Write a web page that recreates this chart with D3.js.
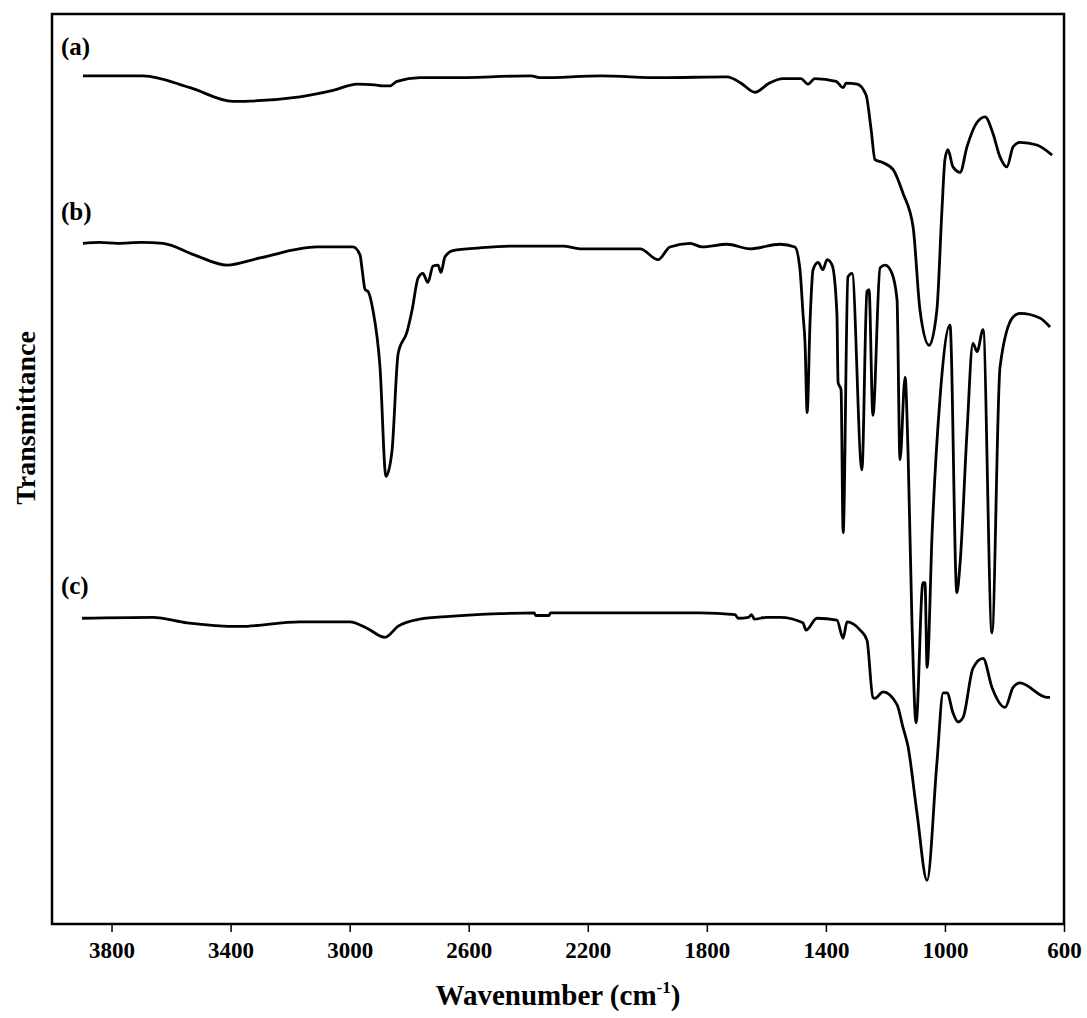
<!DOCTYPE html>
<html>
  <head>
    <meta charset="utf-8" />
    <title>FTIR spectra</title>
    <script src="https://d3js.org/d3.v7.min.js"></script>
    <style>
      body {
        margin: 0;
        background: #fff;
        font-family: 'Liberation Serif', 'Times New Roman', serif;
      }
      .tick text {
        font-weight: bold;
      }
    </style>
  </head>
  <body>
    <div id="chart"></div>
    <script>
      // x axis
      const xTicks = [3800, 3400, 3000, 2600, 2200, 1800, 1400, 1000, 600];
      const xDomain = [4000, 600];
      const seriesLabels = ['(a)', '(b)', '(c)'];

      // spectra: [wavenumber, transmittance (a.u., stacked)]
      const specA = [
        [3896, 93.2], [3694, 93.2], [3536, 91.9], [3392, 90.4], [3167, 90.9],
        [3056, 91.6], [2975, 92.3], [2915, 92.2], [2888, 92.1], [2864, 92.1],
        [2841, 92.6], [2764, 93.0], [2663, 93.0], [2391, 93.2], [2357, 93.0],
        [2156, 93.2], [1954, 93.0], [1732, 93.1], [1685, 92.4], [1638, 91.4],
        [1591, 92.4], [1544, 92.9], [1484, 92.9], [1460, 92.3], [1437, 92.9],
        [1366, 92.6], [1342, 91.9], [1332, 92.4], [1295, 92.3], [1265, 91.1],
        [1248, 87.3], [1235, 84.0], [1211, 83.7], [1174, 82.9], [1141, 80.3],
        [1107, 76.6], [1084, 67.5], [1053, 63.6], [1027, 67.5], [1010, 78.5],
        [1000, 84.0], [990, 85.1], [973, 83.2], [949, 82.6], [926, 85.4],
        [892, 88.1], [865, 88.7], [839, 86.9], [815, 84.3], [792, 83.2],
        [771, 85.4], [748, 85.9], [691, 85.6], [640, 84.5],
      ];
      const specB = [
        [3896, 74.8], [3840, 74.9], [3780, 74.8], [3700, 74.9], [3627, 74.8],
        [3520, 73.5], [3412, 72.4], [3301, 73.2], [3110, 74.4], [2989, 74.4],
        [2965, 73.5], [2958, 71.9], [2948, 69.7], [2938, 69.5], [2922, 67.5],
        [2898, 61.2], [2878, 49.2], [2858, 51.9], [2837, 62.7], [2807, 65.1],
        [2790, 67.5], [2770, 71.0], [2754, 71.5], [2737, 70.5], [2720, 72.3],
        [2703, 72.4], [2693, 71.6], [2680, 73.3], [2653, 74.0], [2562, 74.3],
        [2451, 74.5], [2283, 74.5], [2226, 74.2], [2024, 74.2], [1964, 73.0],
        [1924, 74.4], [1856, 74.8], [1816, 74.4], [1732, 74.7], [1655, 74.2],
        [1554, 74.7], [1504, 74.4], [1487, 71.9], [1477, 67.1], [1470, 63.8],
        [1463, 56.2], [1453, 66.4], [1443, 71.9], [1426, 72.7], [1410, 71.9],
        [1396, 73.0], [1379, 72.4], [1363, 67.1], [1359, 59.5], [1349, 58.7],
        [1342, 43.0], [1326, 71.1], [1312, 71.5], [1279, 49.9], [1262, 69.5],
        [1255, 69.7], [1242, 55.9], [1218, 72.1], [1201, 72.4], [1178, 71.5],
        [1161, 68.6], [1151, 51.0], [1134, 60.1], [1124, 51.9], [1111, 33.4],
        [1097, 22.1], [1074, 37.5], [1067, 37.5], [1060, 28.2], [1043, 43.0],
        [1017, 57.6], [983, 65.8], [960, 36.4], [949, 39.7], [926, 54.0],
        [906, 63.8], [892, 62.9], [872, 65.3], [842, 32.0], [815, 61.2],
        [771, 66.7], [748, 67.1], [681, 66.6], [647, 65.6],
      ];
      const specC = [
        [3899, 33.6], [3661, 33.7], [3546, 33.1], [3368, 32.7], [3167, 33.2],
        [2999, 33.2], [2942, 32.5], [2881, 31.5], [2838, 32.7], [2764, 33.5],
        [2663, 33.8], [2495, 34.1], [2380, 34.2], [2375, 33.9], [2330, 33.9],
        [2325, 34.2], [2159, 34.2], [1823, 34.2], [1705, 34.0], [1695, 33.6],
        [1660, 33.7], [1650, 34.0], [1640, 33.5], [1600, 33.7], [1554, 33.7],
        [1477, 33.1], [1467, 32.3], [1430, 33.6], [1363, 33.4], [1342, 31.4],
        [1329, 33.2], [1285, 32.3], [1262, 31.2], [1242, 24.9], [1235, 24.8],
        [1208, 25.5], [1161, 24.1], [1141, 21.6], [1124, 19.5], [1094, 12.2],
        [1060, 4.8], [1027, 17.7], [1006, 25.4], [993, 25.4], [973, 23.2],
        [956, 22.2], [939, 22.7], [906, 28.1], [872, 29.2], [842, 26.0],
        [798, 23.8], [771, 26.0], [748, 26.5], [657, 24.9], [647, 24.9],
      ];
      const spectra = [specA, specB, specC];
      // label position for each spectrum [wavenumber, transmittance]
      const labelPos = [[3970, 95.5], [3970, 77.4], [3970, 36.3]];

      const width = 1087;
      const height = 1018;
      const margin = { top: 14, right: 23, bottom: 94, left: 52 };
      const innerW = width - margin.left - margin.right;
      const innerH = height - margin.top - margin.bottom;

      const svg = d3
        .select('#chart')
        .append('svg')
        .attr('width', width)
        .attr('height', height);

      const x = d3.scaleLinear().domain(xDomain).range([margin.left, margin.left + innerW]);
      const y = d3.scaleLinear().domain([0, 100]).range([margin.top + innerH, margin.top]);

      // spectra lines
      const line = d3
        .line()
        .x((d) => x(d[0]))
        .y((d) => y(d[1]))
        .curve(d3.curveMonotoneX);

      svg
        .append('g')
        .selectAll('path')
        .data(spectra)
        .join('path')
        .attr('d', line)
        .attr('fill', 'none')
        .attr('stroke', '#000')
        .attr('stroke-width', 2.8)
        .attr('stroke-linejoin', 'round');

      // series labels
      svg
        .append('g')
        .selectAll('text')
        .data(seriesLabels)
        .join('text')
        .attr('x', (d, i) => x(labelPos[i][0]))
        .attr('y', (d, i) => y(labelPos[i][1]))
        .attr('font-size', 25)
        .attr('font-weight', 'bold')
        .text((d) => d);

      // frame
      svg
        .append('rect')
        .attr('x', margin.left)
        .attr('y', margin.top)
        .attr('width', innerW)
        .attr('height', innerH)
        .attr('fill', 'none')
        .attr('stroke', '#000')
        .attr('stroke-width', 2.5);

      // bottom axis
      const xAxis = svg
        .append('g')
        .attr('transform', `translate(0,${margin.top + innerH})`)
        .call(d3.axisBottom(x).tickValues(xTicks).tickSize(8).tickPadding(10).tickFormat(d3.format('d')));
      xAxis.select('.domain').remove();
      xAxis.selectAll('.tick line').attr('stroke-width', 1.5);
      xAxis
        .selectAll('.tick text')
        .attr('font-size', 23)
        .attr('font-family', "'Liberation Serif', serif")
        .attr('fill', '#000');

      // axis titles
      const title = svg
        .append('text')
        .attr('x', margin.left + innerW / 2)
        .attr('y', 1005)
        .attr('text-anchor', 'middle')
        .attr('font-size', 29)
        .attr('font-weight', 'bold');
      title.append('tspan').text('Wavenumber (cm');
      title.append('tspan').attr('font-size', 17).attr('dy', -12).text('-1');
      title.append('tspan').attr('dy', 12).text(')');

      svg
        .append('text')
        .attr('transform', `translate(35,418) rotate(-90)`)
        .attr('text-anchor', 'middle')
        .attr('font-size', 28)
        .attr('font-weight', 'bold')
        .text('Transmittance');
    </script>
  </body>
</html>
